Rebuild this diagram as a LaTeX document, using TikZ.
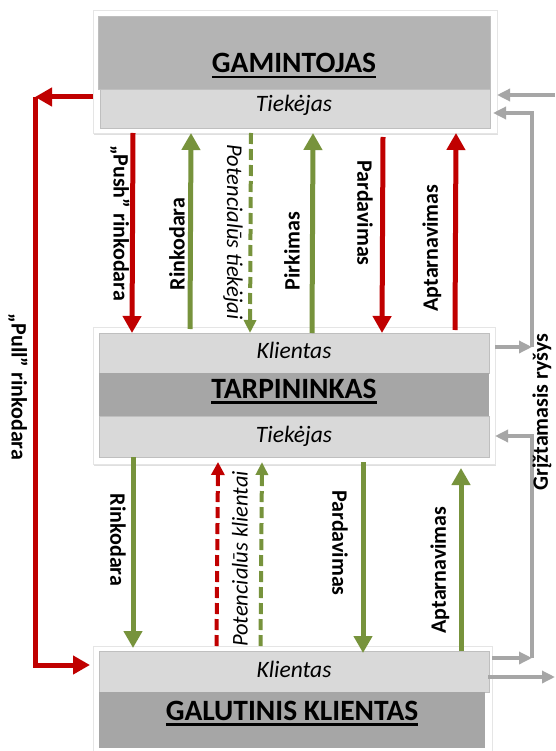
\documentclass[tikz,border=0pt]{standalone}
\usepackage{fontspec}
\setmainfont{Carlito}
\usetikzlibrary{arrows.meta,shadows}
\definecolor{cred}{HTML}{C00000}
\definecolor{cgreen}{HTML}{77933C}
\definecolor{cgrayarr}{HTML}{A6A6A6}
\definecolor{darktop}{HTML}{B4B4B4}
\definecolor{darkband}{HTML}{A6A6A6}
\definecolor{lightband}{HTML}{D9D9D9}
\definecolor{bandline}{HTML}{BFBFBF}
\newcommand\ulbox[1]{\setbox0\hbox{#1}\rlap{\rule[-5.5pt]{\wd0}{2.6pt}}\box0}
\begin{document}
\begin{tikzpicture}[x=1pt,y=-1pt,
  whitebox/.style={draw=black!10, line width=0.6pt, fill=white, inner sep=0pt, outer sep=0pt,
    drop shadow={shadow xshift=1.2pt, shadow yshift=-1.8pt, opacity=0.25}},
  band/.style={draw=bandline, line width=0.7pt, inner sep=0pt, outer sep=0pt},
  title/.style={font=\fontsize{29.5}{32}\selectfont\bfseries, inner sep=0pt, anchor=base},
  bandtxt/.style={font=\fontsize{23.5}{27}\selectfont\itshape, inner sep=0pt, anchor=base},
  lab/.style={font=\fontsize{22}{26}\selectfont\bfseries, inner sep=0pt},
  ilab/.style={font=\fontsize{22.5}{26}\selectfont\itshape, inner sep=0pt},
  redarr/.style={draw=cred, line width=5pt, -{Triangle[width=18pt,length=17pt]}},
  greenarr/.style={draw=cgreen, line width=5pt, -{Triangle[width=18pt,length=17pt]}},
  dgreen/.style={draw=cgreen, line width=4pt, dash pattern=on 11pt off 5pt, -{Triangle[width=12pt,length=13pt]}},
  dred/.style={draw=cred, line width=4pt, dash pattern=on 11pt off 5pt, -{Triangle[width=13pt,length=13pt]}},
  grayarr/.style={draw=cgrayarr, line width=3.3pt, -{Triangle[width=12pt,length=13pt]}},
  grayline/.style={draw=cgrayarr, line width=3.3pt}
]
\useasboundingbox (0,0) rectangle (555,751);
\fill[white] (0,0) rectangle (555,751);
\clip (0,0) rectangle (555,751);

% ---------- boxes ----------
\node[whitebox, minimum width=404pt, minimum height=123pt] (topw) at (295,71.5) {};
\node[band, fill=darktop, minimum width=392pt, minimum height=73pt] (topd) at (294,52.5) {};
\node[band, fill=lightband, minimum width=390pt, minimum height=39pt] (topt) at (295,108.5) {};
\node[title] (gtitle) at (294,73) {\ulbox{GAMINTOJAS}};
\node[bandtxt] (gtiek) at (294,112) {Tiekėjas};

\node[whitebox, minimum width=402pt, minimum height=137pt] (midw) at (294,395.5) {};
\node[band, fill=lightband, minimum width=390pt, minimum height=40pt] (midk) at (294,353) {};
\node[band, draw=none, fill=darkband, minimum width=390pt, minimum height=43pt] (midd) at (294,394.5) {};
\node[band, fill=lightband, minimum width=390pt, minimum height=41pt] (midt) at (294,436.5) {};
\node[bandtxt] (tklient) at (294,358) {Klientas};
\node[title] (ttitle) at (294,398) {\ulbox{TARPININKAS}};
\node[bandtxt] (ttiek) at (294,442) {Tiekėjas};

\node[whitebox, minimum width=399pt, minimum height=124pt] (botw) at (292.5,708) {};
\node[band, fill=lightband, minimum width=390pt, minimum height=41pt] (botk) at (294,671.5) {};
\node[band, draw=none, fill=darkband, minimum width=386pt, minimum height=56pt] (botd) at (292,720) {};
\node[bandtxt] (bklient) at (294,677) {Klientas};
\node[title] (btitle) at (292,720) {\ulbox{GALUTINIS KLIENTAS}};

% ---------- top -> middle ----------
\draw[redarr] ([xshift=-162pt]topw.south) -- ([xshift=-162pt]midk.north);
\draw[greenarr] ([xshift=-104pt,yshift=4pt]midk.north) -- ([xshift=-104pt]topw.south);
\draw[dgreen] ([xshift=-44pt]topw.south) -- ([xshift=-44pt]midk.north);
\draw[greenarr] ([xshift=18pt]midk.north) -- ([xshift=18pt]topw.south);
\draw[redarr] ([xshift=88pt,yshift=-4pt]topw.south) -- ([xshift=88pt]midk.north);
\draw[redarr] ([xshift=161pt,yshift=3pt]midk.north) -- ([xshift=161pt]topw.south);

\node[lab, rotate=-90] (lpush) at (120,223) {„Push” rinkodara};
\node[lab, rotate=90] (lrink1) at (177,244) {Rinkodara};
\node[ilab, rotate=-90] (lpott) at (233,232) {Potencialūs tiekėjai};
\node[lab, rotate=90] (lpirk) at (292,251) {Pirkimas};
\node[lab, rotate=-90] (lpard1) at (365,213) {Pardavimas};
\node[lab, rotate=90] (lapt1) at (432,248) {Aptarnavimas};

% ---------- middle -> bottom ----------
\draw[greenarr] ([xshift=-161pt]midt.south) -- ([xshift=-161pt,yshift=3pt]botk.north);
\draw[dred] ([xshift=-76pt]botw.north) -- ([xshift=-76pt,yshift=2pt]midw.south);
\draw[dgreen] ([xshift=-32pt]botw.north) -- ([xshift=-32pt,yshift=2pt]midw.south);
\draw[greenarr] ([xshift=69pt,yshift=2pt]midw.south) -- ([xshift=69pt,yshift=-2pt]botk.north);
\draw[greenarr] ([xshift=167pt]botk.north) -- ([xshift=167pt,yshift=-4pt]midw.south);

\node[lab, rotate=-90] (lrink2) at (118,540) {Rinkodara};
\node[ilab, rotate=90] (lpotk) at (240,559) {Potencialūs klientai};
\node[lab, rotate=-90] (lpard2) at (340,543) {Pardavimas};
\node[lab, rotate=90] (lapt2) at (440,570) {Aptarnavimas};

% ---------- pull marketing (left) ----------
\coordinate (pullTL) at (35,97);
\coordinate (pullBL) at (35,665);
\draw[redarr] ([yshift=-25.5pt]topw.west) -- (pullTL);
\draw[redarr] (pullTL) -- (pullBL) -- ([xshift=-3pt,yshift=43pt]botw.west);
\node[lab, rotate=-90] (lpull) at (18,387) {„Pull” rinkodara};

% ---------- feedback (right) ----------
\coordinate (inTop) at (555,95);
\coordinate (outBot) at (555,677);
\coordinate (fbA) at (532,347);
\coordinate (fbAtop) at (532,113);
\coordinate (fbB) at (532,658);
\coordinate (fbBtop) at (532,436);
\draw[grayarr] (inTop) -- ([yshift=-23.5pt]topw.east);
\draw[grayarr] ([yshift=48.5pt]midw.east) -- (fbA);
\draw[grayarr] (fbA) -- (fbAtop) -- ([xshift=-4pt,yshift=-41.5pt]topw.east);
\draw[grayarr] ([yshift=50pt]botw.east) -- (fbB);
\draw[grayarr] (fbB) -- (fbBtop) -- ([yshift=-40.5pt]midw.east);
\draw[grayarr] ([xshift=-4pt,yshift=31pt]botw.east) -- (outBot);
\node[lab, rotate=90] (lfeed) at (542,412) {Grįžtamasis ryšys};
\end{tikzpicture}
\end{document}
